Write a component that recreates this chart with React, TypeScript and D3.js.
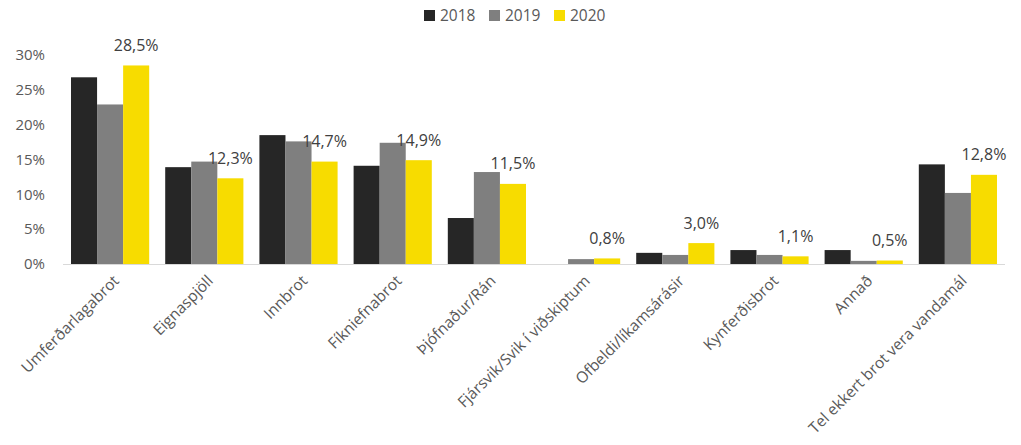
import React from "react";
import * as d3 from "d3";

const categories = [
  "Umferðarlagabrot",
  "Eignaspjöll",
  "Innbrot",
  "Fíkniefnabrot",
  "Þjófnaður/Rán",
  "Fjársvik/Svik í viðskiptum",
  "Ofbeldi/líkamsárásir",
  "Kynferðisbrot",
  "Annað",
  "Tel ekkert brot vera vandamál",
];
const seriesNames = ["2018", "2019", "2020"];
const values2018 = [26.8, 13.9, 18.5, 14.1, 6.6, 0, 1.6, 2.0, 2.0, 14.3];
const values2019 = [22.9, 14.7, 17.6, 17.4, 13.2, 0.7, 1.3, 1.3, 0.45, 10.2];
const values2020 = [28.5, 12.3, 14.7, 14.9, 11.5, 0.8, 3.0, 1.1, 0.5, 12.8];
const colors = ["#262626", "#7f7f7f", "#f7dc00"];
const yTicks = [0, 5, 10, 15, 20, 25, 30];

const W = 1021;
const H = 445;
const left = 63;
const right = 1005;
const top = 55;
const bottom = 264;

export default function App() {
  const series = [values2018, values2019, values2020];
  const x = d3.scaleBand<string>().domain(categories).range([left, right]).paddingInner(0.17).paddingOuter(0.085);
  const xs = d3.scaleBand<string>().domain(seriesNames).range([0, x.bandwidth()]);
  const y = d3.scaleLinear().domain([0, 30]).range([bottom, top]);
  const fmt = (v: number) => v.toFixed(1).replace(".", ",") + "%";
  const font = "'Open Sans', sans-serif";

  return (
    <svg width={W} height={H} style={{ position: "absolute", left: 0, top: 0, background: "#fff" }}>
      {/* legend */}
      {seriesNames.map((s, i) => {
        const lx = 424 + i * 65;
        return (
          <g key={s}>
            <rect x={lx} y={10} width={11} height={11} fill={colors[i]} />
            <text x={lx + 16} y={15.5} dy="0.35em" fontSize={15.5} fill="#595959" fontFamily={font}>
              {s}
            </text>
          </g>
        );
      })}
      {/* y ticks */}
      {yTicks.map((t) => (
        <text key={t} x={45} y={y(t)} dy="0.35em" textAnchor="end" fontSize={15} fill="#595959" fontFamily={font}>
          {t}%
        </text>
      ))}
      {/* bars */}
      {categories.map((c, ci) => (
        <g key={c} transform={`translate(${x(c)},0)`}>
          {series.map((vals, si) =>
            vals[ci] > 0 ? (
              <rect
                key={si}
                x={xs(seriesNames[si])}
                y={y(vals[ci])}
                width={xs.bandwidth()}
                height={bottom - y(vals[ci])}
                fill={colors[si]}
              />
            ) : null
          )}
          <text
            x={(xs(seriesNames[2]) as number) + xs.bandwidth() / 2}
            y={y(values2020[ci]) - 20}
            dy="0.35em"
            textAnchor="middle"
            fontSize={16}
            fill="#404040"
            fontFamily={font}
          >
            {fmt(values2020[ci])}
          </text>
        </g>
      ))}
      {/* axis line */}
      <line x1={left} x2={right} y1={bottom + 0.5} y2={bottom + 0.5} stroke="#d9d9d9" strokeWidth={1} />
      {/* category labels */}
      {categories.map((c) => {
        const cx = (x(c) as number) + x.bandwidth() / 2;
        return (
          <text
            key={c}
            transform={`translate(${cx + 6},${bottom + 14}) rotate(-45)`}
            textAnchor="end"
            dy="0.35em"
            fontSize={15.5}
            fill="#595959"
            fontFamily={font}
          >
            {c}
          </text>
        );
      })}
    </svg>
  );
}
